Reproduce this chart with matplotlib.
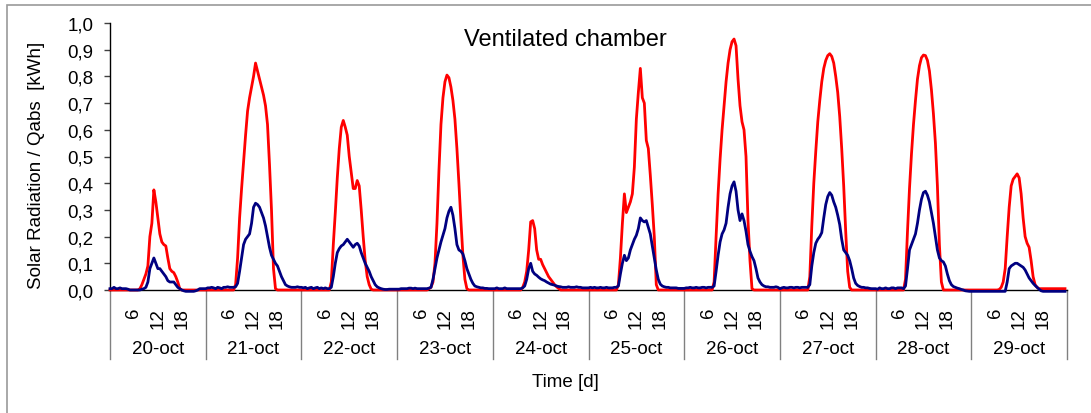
import matplotlib
matplotlib.use("Agg")
import matplotlib.pyplot as plt
import matplotlib.transforms as mtransforms
from matplotlib.patches import Rectangle
from matplotlib.ticker import FuncFormatter

plt.rcParams['font.family'] = ['Liberation Sans', 'DejaVu Sans']

# ---------------- data (half-hourly values, kWh) ----------------
days = ["20-oct", "21-oct", "22-oct", "23-oct", "24-oct",
        "25-oct", "26-oct", "27-oct", "28-oct", "29-oct"]
hour_ticks = [6, 12, 18]
y_ticks = [0.0, 0.1, 0.2, 0.3, 0.4, 0.5, 0.6, 0.7, 0.8, 0.9, 1.0]
step_h = 0.5  # sampling interval in hours

solar_20 = [0, 0, 0, 0, 0, 0, 0, 0, 0, 0, 0, 0, 0, 0,
            0, 0.005, 0.02, 0.04, 0.06, 0.09, 0.2, 0.25, 0.375, 0.33, 0.27, 0.21, 0.18, 0.17,
            0.165, 0.12, 0.08, 0.07, 0.065, 0.05, 0.03, 0.005,
            0, 0, 0, 0, 0, 0, 0, 0, 0, 0, 0, 0]
qabs_20 = [0.005, 0.005, 0.01, 0.005, 0.005, 0.008, 0.005, 0.005, 0.005, 0.003, 0, 0, 0, 0,
           0, 0, 0.003, 0.005, 0.01, 0.03, 0.08, 0.10, 0.12, 0.10, 0.08, 0.08, 0.07, 0.06,
           0.05, 0.035, 0.03, 0.03, 0.03, 0.02, 0.01, 0.005,
           0, -0.003, -0.005, -0.005, -0.005, -0.005, -0.005, -0.003, 0.0, 0.005, 0.005, 0.005]

solar_21 = [0, 0, 0, 0, 0, 0, 0, 0, 0, 0, 0, 0, 0, 0,
            0, 0.02, 0.12, 0.27, 0.38, 0.48, 0.58, 0.67, 0.72, 0.76, 0.80, 0.85, 0.82, 0.79,
            0.76, 0.73, 0.69, 0.62, 0.47, 0.30, 0.08, 0.005,
            0, 0, 0, 0, 0, 0, 0, 0, 0, 0, 0, 0]
qabs_21 = [0.005, 0.008, 0.008, 0.01, 0.008, 0.005, 0.01, 0.008, 0.005, 0.01, 0.01, 0.012, 0.01, 0.01,
           0.01, 0.012, 0.025, 0.07, 0.12, 0.17, 0.19, 0.20, 0.21, 0.25, 0.31, 0.325, 0.32, 0.31,
           0.29, 0.27, 0.24, 0.20, 0.16, 0.13, 0.115, 0.10,
           0.09, 0.07, 0.05, 0.035, 0.02, 0.015, 0.012, 0.01, 0.01, 0.01, 0.012, 0.01]

solar_22 = [0, 0, 0, 0, 0, 0, 0, 0, 0, 0, 0, 0, 0, 0,
            0, 0.03, 0.17, 0.29, 0.42, 0.53, 0.61, 0.635, 0.61, 0.58, 0.50, 0.44, 0.38, 0.38,
            0.41, 0.39, 0.30, 0.20, 0.11, 0.05, 0.02, 0.003,
            0, 0, 0, 0, 0, 0, 0, 0, 0, 0, 0, 0]
qabs_22 = [0.01, 0.008, 0.01, 0.005, 0.008, 0.01, 0.005, 0.008, 0.01, 0.005, 0.008, 0.005, 0.008, 0.005,
           0.005, 0.01, 0.05, 0.10, 0.14, 0.155, 0.165, 0.17, 0.18, 0.19, 0.18, 0.17, 0.16, 0.17,
           0.175, 0.165, 0.14, 0.12, 0.10, 0.085, 0.07, 0.05,
           0.035, 0.02, 0.012, 0.008, 0.005, 0.003, 0.002, 0.002, 0.003, 0.003, 0.003, 0.003]

solar_23 = [0, 0, 0, 0, 0, 0, 0, 0, 0, 0, 0, 0, 0, 0,
            0, 0, 0.005, 0.01, 0.03, 0.1, 0.25, 0.45, 0.62, 0.72, 0.78, 0.805, 0.795, 0.76,
            0.71, 0.64, 0.53, 0.40, 0.26, 0.13, 0.04, 0.005,
            0, 0, 0, 0, 0, 0, 0, 0, 0, 0, 0, 0]
qabs_23 = [0.003, 0.003, 0.005, 0.005, 0.005, 0.005, 0.007, 0.007, 0.005, 0.007, 0.005, 0.005, 0.005, 0.005,
           0.005, 0.005, 0.007, 0.01, 0.04, 0.08, 0.12, 0.15, 0.18, 0.205, 0.23, 0.27, 0.295, 0.31,
           0.28, 0.23, 0.17, 0.15, 0.145, 0.135, 0.11, 0.08,
           0.06, 0.04, 0.025, 0.015, 0.012, 0.01, 0.008, 0.008, 0.006, 0.006, 0.005, 0.005]

solar_24 = [0, 0, 0, 0, 0, 0, 0, 0, 0, 0, 0, 0, 0, 0,
            0, 0.01, 0.03, 0.07, 0.15, 0.255, 0.26, 0.23, 0.15, 0.115, 0.115, 0.095, 0.08, 0.065,
            0.05, 0.04, 0.03, 0.02, 0.012, 0.006, 0, 0,
            0, 0, 0, 0, 0, 0, 0, 0, 0, 0, 0, 0]
qabs_24 = [0.005, 0.005, 0.008, 0.005, 0.005, 0.005, 0.008, 0.005, 0.005, 0.005, 0.005, 0.005, 0.005, 0.005,
           0.005, 0.008, 0.015, 0.04, 0.08, 0.10, 0.07, 0.06, 0.055, 0.048, 0.042, 0.038, 0.035, 0.03,
           0.026, 0.022, 0.02, 0.018, 0.015, 0.013, 0.012, 0.01,
           0.01, 0.01, 0.012, 0.01, 0.01, 0.01, 0.012, 0.01, 0.01, 0.008, 0.008, 0.008]

solar_25 = [0, 0, 0, 0, 0, 0, 0, 0, 0, 0, 0, 0, 0, 0,
            0, 0.02, 0.12, 0.25, 0.36, 0.29, 0.31, 0.33, 0.36, 0.46, 0.64, 0.74, 0.83, 0.72,
            0.70, 0.56, 0.53, 0.43, 0.32, 0.2, 0.02, 0,
            0, 0, 0, 0, 0, 0, 0, 0, 0, 0, 0, 0]
qabs_25 = [0.008, 0.01, 0.008, 0.01, 0.008, 0.008, 0.01, 0.008, 0.008, 0.01, 0.008, 0.008, 0.008, 0.01,
           0.01, 0.015, 0.06, 0.10, 0.13, 0.11, 0.12, 0.15, 0.17, 0.19, 0.205, 0.23, 0.27, 0.26,
           0.255, 0.26, 0.235, 0.21, 0.165, 0.12, 0.075, 0.04,
           0.022, 0.015, 0.012, 0.01, 0.01, 0.008, 0.008, 0.008, 0.008, 0.006, 0.006, 0.006]

solar_26 = [0, 0, 0, 0, 0, 0, 0, 0, 0, 0, 0, 0, 0, 0,
            0, 0.03, 0.2, 0.36, 0.49, 0.6, 0.69, 0.78, 0.85, 0.90, 0.93, 0.94, 0.915, 0.79,
            0.69, 0.63, 0.60, 0.50, 0.26, 0.11, 0.005, 0,
            0, 0, 0, 0, 0, 0, 0, 0, 0, 0, 0, 0]
qabs_26 = [0.006, 0.008, 0.008, 0.01, 0.008, 0.008, 0.01, 0.008, 0.008, 0.01, 0.01, 0.008, 0.01, 0.01,
           0.01, 0.015, 0.07, 0.13, 0.18, 0.21, 0.225, 0.25, 0.31, 0.36, 0.39, 0.405, 0.37, 0.30,
           0.26, 0.285, 0.26, 0.22, 0.17, 0.145, 0.125, 0.11,
           0.08, 0.045, 0.03, 0.02, 0.015, 0.012, 0.012, 0.01, 0.01, 0.01, 0.012, 0.01]

solar_27 = [0, 0, 0, 0, 0, 0, 0, 0, 0, 0, 0, 0, 0, 0,
            0, 0.05, 0.24, 0.40, 0.52, 0.63, 0.71, 0.78, 0.83, 0.86, 0.878, 0.885, 0.875, 0.85,
            0.80, 0.74, 0.65, 0.53, 0.39, 0.22, 0.07, 0.01,
            0, 0, 0, 0, 0, 0, 0, 0, 0, 0, 0, 0]
qabs_27 = [0.005, 0.008, 0.01, 0.008, 0.008, 0.01, 0.01, 0.008, 0.01, 0.01, 0.008, 0.01, 0.01, 0.01,
           0.01, 0.02, 0.09, 0.14, 0.175, 0.19, 0.2, 0.215, 0.27, 0.32, 0.35, 0.365, 0.355, 0.33,
           0.31, 0.28, 0.245, 0.19, 0.15, 0.14, 0.13, 0.11,
           0.08, 0.045, 0.025, 0.017, 0.013, 0.01, 0.01, 0.008, 0.008, 0.006, 0.005, 0.005]

solar_28 = [0, 0, 0, 0, 0, 0, 0, 0, 0, 0, 0, 0, 0, 0,
            0, 0.04, 0.22, 0.38, 0.51, 0.62, 0.71, 0.79, 0.84, 0.87, 0.88, 0.878, 0.86, 0.82,
            0.75, 0.66, 0.55, 0.39, 0.17, 0.03, 0, 0,
            0, 0, 0, 0, 0, 0, 0, 0, 0, 0, 0, 0]
qabs_28 = [0.005, 0.003, 0.008, 0.005, 0.005, 0.008, 0.005, 0.005, 0.008, 0.008, 0.005, 0.008, 0.008, 0.008,
           0.005, 0.015, 0.08, 0.15, 0.17, 0.19, 0.21, 0.25, 0.30, 0.34, 0.365, 0.37, 0.355, 0.33,
           0.29, 0.25, 0.2, 0.15, 0.12, 0.11, 0.105, 0.09,
           0.06, 0.035, 0.02, 0.013, 0.01, 0.007, 0.005, 0.002, 0, -0.003, -0.004, -0.005]

solar_29 = [0, 0, 0, 0, 0, 0, 0, 0, 0, 0, 0, 0, 0, 0,
            0.002, 0.01, 0.03, 0.08, 0.2, 0.31, 0.39, 0.415, 0.425, 0.435, 0.42, 0.36, 0.27, 0.2,
            0.175, 0.16, 0.11, 0.05, 0.02, 0.01, 0.005, 0.005,
            0.005, 0.005, 0.005, 0.005, 0.005, 0.005, 0.005, 0.005, 0.005, 0.005, 0.005, 0.005]
qabs_29 = [-0.005, -0.005, -0.005, -0.005, -0.005, -0.005, -0.005, -0.005, -0.005, -0.005, -0.005, -0.005, -0.005, -0.005,
           -0.005, -0.005, -0.005, -0.005, 0.03, 0.08, 0.09, 0.095, 0.10, 0.1, 0.095, 0.09, 0.085, 0.075,
           0.06, 0.045, 0.035, 0.025, 0.017, 0.01, 0.003, -0.003,
           -0.005, -0.005, -0.005, -0.005, -0.005, -0.005, -0.005, -0.005, -0.005, -0.005, -0.005, -0.005]

solar_days = [solar_20, solar_21, solar_22, solar_23, solar_24,
              solar_25, solar_26, solar_27, solar_28, solar_29]
qabs_days = [qabs_20, qabs_21, qabs_22, qabs_23, qabs_24,
             qabs_25, qabs_26, qabs_27, qabs_28, qabs_29]
for s in solar_days + qabs_days:
    assert len(s) == 48, len(s)
solar = [v for day in solar_days for v in day]
qabs = [v for day in qabs_days for v in day]
hours = [i * step_h for i in range(len(solar))]

# ---------------- figure ----------------
W, H = 1091, 414
fig = plt.figure(figsize=(W / 100, H / 100), dpi=100)
fig.patch.set_facecolor('white')

# outer chart border (cut off at right/bottom as in the original)
fig.patches.append(Rectangle((7 / W, -0.1), 1.2, (H - 6) / H + 0.1, fill=False,
                             edgecolor='#9a9a9a', linewidth=1.2,
                             transform=fig.transFigure, figure=fig))

ax_l, ax_r, ax_t, ax_b = 110, 1067, 24, 291
ax = fig.add_axes([ax_l / W, (H - ax_b) / H, (ax_r - ax_l) / W, (ax_b - ax_t) / H])

ax.plot(hours, solar, color='#ff0000', lw=2.0, zorder=3, clip_on=False,
        solid_joinstyle='round')
ax.plot(hours, qabs, color='#000080', lw=2.0, zorder=4, clip_on=False,
        solid_joinstyle='round')

n_days = len(days)
ax.set_xlim(0, 24 * n_days)
ax.set_ylim(0, 1.0)

for s in ['top', 'right']:
    ax.spines[s].set_visible(False)
ax.spines['left'].set_color('black')
ax.spines['bottom'].set_color('black')
ax.spines['left'].set_linewidth(1.0)
ax.spines['bottom'].set_linewidth(1.0)

ax.set_yticks(y_ticks)
ax.yaxis.set_major_formatter(FuncFormatter(lambda v, p: f"{v:.1f}".replace('.', ',')))
ax.tick_params(axis='y', direction='out', length=4, width=1, color='#404040',
               labelsize=13.5, pad=8)

xt, xl = [], []
for d in range(n_days):
    for h in hour_ticks:
        xt.append(24 * d + h)
        xl.append(str(h))
ax.set_xticks(xt)
ax.set_xticklabels(xl, rotation=90)
ax.tick_params(axis='x', length=0, labelsize=13.5, pad=12)

# category separators and day labels
trans = mtransforms.blended_transform_factory(ax.transData, ax.transAxes)
sep_bottom = -(360 - ax_b) / (ax_b - ax_t)
lab_y = -(349 - ax_b) / (ax_b - ax_t)
for d in range(n_days + 1):
    ax.plot([24 * d, 24 * d], [0, sep_bottom], transform=trans, color='#808080',
            lw=1.0, clip_on=False, zorder=1)
for d, name in enumerate(days):
    ax.text(24 * d + 12, lab_y, name, transform=trans, ha='center', va='center',
            fontsize=13.5)

ax.set_ylabel("Solar Radiation / Qabs  [kWh]", fontsize=13.5)
ax.yaxis.set_label_coords(-(ax_l - 45) / (ax_r - ax_l), (ax_b - 165) / (ax_b - ax_t))

fig.text(565 / W, 1 - 383 / H, "Time [d]", ha='center', va='center', fontsize=13.5)
fig.text(565 / W, 1 - 40 / H, "Ventilated chamber", ha='center', va='center', fontsize=17)

fig.savefig("out.png", dpi=100)
